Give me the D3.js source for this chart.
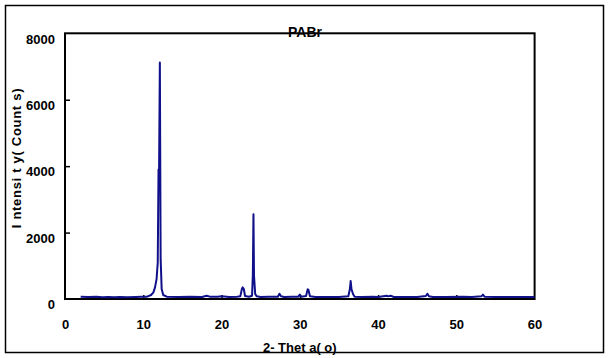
<!DOCTYPE html>
<html><head><meta charset="utf-8">
<script src="https://cdn.jsdelivr.net/npm/d3@7"></script>
<style>body{margin:0;background:#fff}svg{display:block}</style>
</head><body>
<svg id="c" width="613" height="358"></svg>
<script>
const twoTheta = [2.0,3.0,4.0,4.8,5.5,6.3,7.0,8.0,9.0,9.8,10.5,11.0,11.3,11.5,11.7,11.85,11.95,12.02,12.12,12.22,12.35,12.55,13.0,14.5,16.0,17.5,18.1,18.6,19.5,20.0,21.0,22.0,22.4,22.6,22.7,22.85,23.0,23.5,23.9,24.0,24.08,24.15,24.3,24.5,25.0,26.0,27.2,27.4,27.6,28.0,29.0,29.8,30.0,30.2,30.8,31.0,31.1,31.3,32.0,33.5,35.0,36.2,36.4,36.5,36.6,36.8,37.0,38.0,39.3,40.0,41.1,41.3,41.6,42.0,43.5,45.0,46.1,46.3,46.5,47.0,48.5,50.8,52.0,53.2,53.4,53.6,55.0,57.0,60.0];
const counts   = [70,60,65,55,60,52,58,55,60,65,70,120,200,350,600,1100,3900,3900,7120,1200,300,120,70,60,65,60,100,65,70,80,60,65,80,300,350,300,90,70,100,720,2550,700,150,80,60,65,70,160,80,60,65,70,130,70,90,290,280,80,60,62,60,80,300,540,300,150,70,60,70,60,100,80,100,60,62,60,90,160,80,60,62,70,60,80,130,70,60,62,60];
const xTicks = [0,10,20,30,40,50,60];
const yTicks = [0,2000,4000,6000,8000];
const title = "PABr";
const xTitle = "2- Thet a( o)";
const yTitle = "I ntensi t y( Count s)";

const svg = d3.select("#c");
const font = "'Liberation Sans', Arial, sans-serif";
svg.append("rect").attr("x",5.5).attr("y",5.5).attr("width",598).attr("height",347)
  .attr("fill","none").attr("stroke","#000").attr("stroke-width",1.5);

const L=65, R=534.6, T=33.3, B=299;
const x = d3.scaleLinear().domain([0,60]).range([L,R]);
const y = d3.scaleLinear().domain([0,8000]).range([B,T]);

const gy = svg.append("g").attr("transform",`translate(${L},0)`)
  .call(d3.axisLeft(y).tickValues(yTicks).tickFormat(d3.format("d")).tickSizeInner(-5).tickSizeOuter(0).tickPadding(10));
gy.select(".domain").remove();
gy.selectAll(".tick line").attr("stroke","#000").attr("stroke-width",1.5)
  .filter(d=>d===0||d===8000).remove();
gy.selectAll(".tick text").attr("dy","0.75em").attr("font-family",font).attr("font-size",13)
  .attr("font-weight","bold").attr("fill","#000");

const gx = svg.append("g").attr("transform",`translate(0,${B})`)
  .call(d3.axisBottom(x).tickValues(xTicks).tickSizeInner(-4).tickSizeOuter(0).tickPadding(27));
gx.select(".domain").remove();
gx.selectAll(".tick line").attr("stroke","#000").attr("stroke-width",1.5)
  .filter(d=>d===0||d===60).remove();
gx.selectAll(".tick text").attr("dy","0.2em").attr("font-family",font).attr("font-size",13)
  .attr("font-weight","bold").attr("fill","#000");

svg.append("rect").attr("x",L).attr("y",T).attr("width",R-L).attr("height",B-T)
  .attr("fill","none").attr("stroke","#000").attr("stroke-width",2);

const data = twoTheta.map((t,i)=>[t,counts[i]]);
svg.append("path").datum(data)
  .attr("d", d3.line().x(d=>x(d[0])).y(d=>y(d[1])))
  .attr("fill","none").attr("stroke","#10108a").attr("stroke-width",2).attr("stroke-linejoin","round");

svg.append("text").attr("x",305).attr("y",37).attr("text-anchor","middle")
  .attr("font-family",font).attr("font-size",14).attr("font-weight","bold").attr("fill","#000").text(title);
svg.append("text").attr("x",(L+R)/2).attr("y",352).attr("text-anchor","middle")
  .attr("font-family",font).attr("font-size",13).attr("font-weight","bold").attr("fill","#000").text(xTitle);
svg.append("text").attr("transform","translate(21,158) rotate(-90)").attr("text-anchor","middle")
  .attr("letter-spacing","0.7px")
  .attr("font-family",font).attr("font-size",13).attr("font-weight","bold").attr("fill","#000").text(yTitle);
</script>
</body></html>
